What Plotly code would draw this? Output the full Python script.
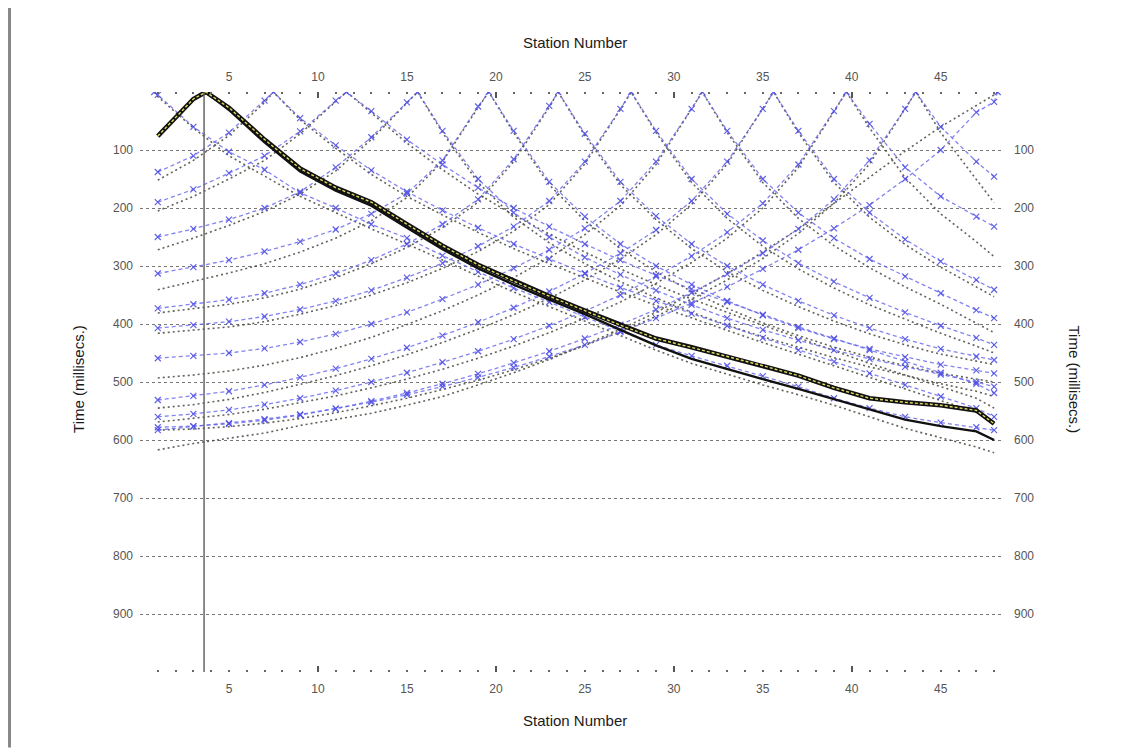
import plotly.graph_objects as go

# Station grid at which the travel times were read (every 2 stations + last)
STATIONS = [1, 3, 5, 7, 9, 11, 13, 15, 17, 19, 21, 23, 25, 27, 29, 31, 33, 35, 37, 39, 41, 43, 45, 47, 48]
SHOTS = [0.8, 7.5, 11.6, 15.6, 19.6, 23.5, 27.6, 31.6, 35.6, 39.7, 43.6, 48.2]
SELECTED_SHOT = 3.7
CURSOR_STATION = 3.6

X_TICKS = [5, 10, 15, 20, 25, 30, 35, 40, 45]
X_MAJOR = [10, 20, 30, 40]
Y_TICKS = [100, 200, 300, 400, 500, 600, 700, 800, 900]

# Computed (blue) travel times per shot, ms
BLUE_01 = [5, 60, 103, 134, 174, 200, 228, 252, 282, 310, 338, 362, 388, 412, 436, 455, 472, 490, 508, 528, 545, 560, 570, 578, 583]
BLUE_07 = [138, 110, 70, 15, 45, 92, 135, 172, 204, 234, 262, 288, 313, 337, 360, 382, 403, 424, 445, 465, 485, 505, 525, 545, 560]
BLUE_11 = [190, 168, 140, 110, 68, 15, 33, 82, 125, 165, 200, 232, 262, 290, 316, 340, 362, 384, 405, 425, 445, 465, 484, 503, 519]
BLUE_15 = [250, 236, 220, 200, 172, 130, 78, 18, 67, 150, 208, 250, 285, 315, 342, 367, 390, 410, 428, 445, 460, 474, 487, 500, 508]
BLUE_19 = [313, 302, 290, 275, 258, 237, 210, 175, 118, 25, 67, 155, 215, 262, 300, 332, 360, 385, 407, 426, 443, 457, 470, 480, 485]
BLUE_23 = [373, 366, 358, 347, 332, 313, 290, 262, 228, 185, 116, 24, 72, 155, 214, 262, 300, 332, 360, 385, 407, 426, 443, 456, 462]
BLUE_27 = [407, 402, 396, 387, 375, 360, 342, 320, 295, 266, 232, 188, 120, 29, 67, 150, 210, 256, 295, 327, 355, 380, 403, 424, 436]
BLUE_31 = [459, 455, 450, 442, 431, 417, 400, 380, 357, 332, 304, 272, 235, 188, 120, 29, 67, 150, 208, 252, 288, 318, 347, 376, 390]
BLUE_35 = [531, 524, 516, 505, 492, 477, 460, 441, 420, 397, 372, 344, 313, 278, 238, 188, 120, 29, 67, 150, 208, 254, 292, 324, 341]
BLUE_39 = [560, 555, 548, 539, 528, 515, 500, 484, 466, 447, 426, 403, 378, 350, 318, 283, 242, 192, 125, 33, 55, 130, 180, 215, 232]
BLUE_43 = [578, 576, 572, 566, 557, 546, 533, 519, 503, 486, 467, 447, 425, 401, 375, 346, 314, 278, 236, 185, 118, 29, 60, 120, 146]
BLUE_48 = [583, 577, 571, 564, 556, 546, 535, 522, 508, 492, 475, 456, 436, 414, 390, 364, 336, 305, 272, 235, 195, 150, 100, 35, 17]

# Observed (black dotted) travel times per shot, ms
BLACK_01 = [8, 62, 110, 145, 180, 208, 236, 262, 290, 318, 345, 370, 395, 420, 445, 468, 487, 505, 522, 540, 560, 580, 596, 612, 622]
BLACK_07 = [152, 118, 75, 18, 48, 97, 142, 180, 212, 242, 270, 296, 321, 345, 368, 390, 411, 432, 452, 472, 492, 512, 532, 552, 569]
BLACK_11 = [205, 180, 150, 118, 72, 16, 36, 88, 134, 176, 212, 245, 276, 305, 332, 357, 380, 402, 424, 446, 468, 488, 508, 528, 545]
BLACK_15 = [272, 252, 230, 206, 176, 136, 82, 20, 70, 156, 216, 260, 296, 327, 355, 380, 402, 422, 440, 458, 474, 489, 503, 516, 525]
BLACK_19 = [341, 327, 312, 296, 276, 252, 222, 182, 120, 27, 70, 160, 222, 270, 310, 344, 373, 398, 420, 440, 457, 472, 485, 495, 500]
BLACK_23 = [381, 374, 366, 355, 340, 320, 296, 268, 234, 190, 120, 26, 75, 160, 220, 270, 310, 342, 370, 395, 417, 436, 452, 464, 470]
BLACK_27 = [416, 411, 405, 396, 383, 368, 350, 329, 304, 275, 240, 194, 124, 30, 70, 156, 218, 266, 305, 338, 367, 392, 416, 438, 450]
BLACK_31 = [493, 488, 481, 471, 458, 442, 423, 401, 377, 350, 320, 286, 246, 196, 125, 30, 70, 156, 218, 265, 303, 336, 366, 398, 415]
BLACK_35 = [545, 539, 530, 518, 504, 489, 472, 453, 432, 409, 384, 356, 324, 288, 246, 194, 124, 30, 70, 156, 216, 263, 302, 336, 353]
BLACK_39 = [569, 563, 556, 547, 536, 524, 510, 495, 478, 459, 438, 415, 390, 362, 330, 294, 252, 200, 130, 35, 62, 148, 210, 258, 284]
BLACK_43 = [583, 581, 577, 571, 563, 553, 541, 528, 513, 497, 479, 459, 437, 413, 387, 357, 324, 287, 244, 192, 124, 30, 70, 150, 191]
BLACK_48 = [617, 606, 597, 588, 575, 564, 554, 540, 525, 505, 484, 461, 436, 409, 380, 348, 313, 276, 236, 192, 147, 102, 60, 24, 5]

# Selected shot (thick curve) picks
SELECTED_PICKS = [76, 12, 27, 82, 132, 165, 190, 228, 265, 298, 326, 352, 377, 402, 425, 440, 456, 472, 489, 510, 528, 535, 540, 549, 572]
SELECTED_MODEL = [76, 12, 31, 87, 137, 170, 196, 234, 271, 304, 332, 358, 383, 410, 437, 460, 478, 495, 512, 530, 547, 565, 576, 585, 600]

BLUE = [BLUE_01, BLUE_07, BLUE_11, BLUE_15, BLUE_19, BLUE_23, BLUE_27, BLUE_31, BLUE_35, BLUE_39, BLUE_43, BLUE_48]
BLACK = [BLACK_01, BLACK_07, BLACK_11, BLACK_15, BLACK_19, BLACK_23, BLACK_27, BLACK_31, BLACK_35, BLACK_39, BLACK_43, BLACK_48]


def with_apex(shot, times):
    pts = sorted(list(zip(STATIONS, times)) + [(shot, 0)])
    return [p[0] for p in pts], [p[1] for p in pts]


fig = go.Figure()

for shot, times in zip(SHOTS, BLACK):
    xs, ys = with_apex(shot, times)
    fig.add_trace(go.Scatter(x=xs, y=ys, mode="lines",
                             line=dict(color="rgba(70,70,60,0.85)", width=1.6, dash="2px,3px")))

for shot, times in zip(SHOTS, BLUE):
    xs, ys = with_apex(shot, times)
    fig.add_trace(go.Scatter(x=xs, y=ys, mode="lines+markers",
                             line=dict(color="rgba(100,100,235,0.8)", width=1.3, dash="4px,3px"),
                             marker=dict(symbol="x-thin", size=6,
                                         line=dict(color="rgba(80,80,230,0.9)", width=1.2))))

xs, ys = with_apex(SELECTED_SHOT, SELECTED_MODEL)
fig.add_trace(go.Scatter(x=xs, y=ys, mode="lines", line=dict(color="#111", width=2.4)))
xs, ys = with_apex(SELECTED_SHOT, SELECTED_PICKS)
fig.add_trace(go.Scatter(x=xs, y=ys, mode="lines", line=dict(color="#111", width=4.5)))
fig.add_trace(go.Scatter(x=xs, y=ys, mode="lines", line=dict(color="#e0dc60", width=1.4, dash="3px,2px")))

# helper traces to make the secondary axes render
fig.add_trace(go.Scatter(x=[None], y=[None], xaxis="x2", yaxis="y2", showlegend=False))
fig.add_trace(go.Scatter(x=[None], y=[None], xaxis="x3", yaxis="y", showlegend=False))
fig.add_trace(go.Scatter(x=[None], y=[None], xaxis="x4", yaxis="y", showlegend=False))

fig.add_shape(type="line", x0=CURSOR_STATION, x1=CURSOR_STATION, y0=0, y1=1, yref="paper",
              line=dict(color="#666", width=1.5))
# window frame on the left
fig.add_shape(type="line", xref="paper", yref="paper", x0=-0.1512, x1=-0.1512, y0=-0.13, y1=1.16,
              line=dict(color="#888", width=3))

XR = [0, 48.5]
YR = [1000, 0]
tickfont = dict(family="Liberation Sans, Arial", size=12, color="#555")
minor = dict(ticks="inside", dtick=1, tick0=0, ticklen=2, tickwidth=2, tickcolor="#666")

common_x = dict(range=XR, tickmode="array", tickvals=X_TICKS, ticks="inside", ticklen=2, tickwidth=2,
                tickcolor="#666", minor=minor, showgrid=False, zeroline=False, showline=False,
                tickfont=tickfont, fixedrange=True, ticklabelstandoff=8)

title_font = dict(family="Liberation Sans, Arial", size=15, color="#1a1a1a")

# the page adds an 8px body margin, so the plot box is placed 8px up/left
fig.update_layout(
    width=1136, height=755,
    margin=dict(l=132, r=141, t=84, b=91, autoexpand=False),
    paper_bgcolor="white", plot_bgcolor="white",
    showlegend=False,
    xaxis=dict(**common_x, anchor="y"),
    xaxis2=dict(**common_x, overlaying="x", side="top", anchor="y"),
    xaxis3=dict(range=XR, overlaying="x", side="bottom", anchor="y", tickmode="array", tickvals=X_MAJOR,
                ticks="inside", ticklen=6, tickwidth=1.5, tickcolor="#555", showticklabels=False,
                showgrid=False, zeroline=False),
    xaxis4=dict(range=XR, overlaying="x", side="top", anchor="y", tickmode="array", tickvals=X_MAJOR,
                ticks="inside", ticklen=6, tickwidth=1.5, tickcolor="#555", showticklabels=False,
                showgrid=False, zeroline=False),
    yaxis=dict(range=YR, tickmode="array", tickvals=Y_TICKS, showgrid=True, gridcolor="#777",
               griddash="dot", gridwidth=1.4, zeroline=False, showline=False, ticks="",
               tickfont=tickfont, ticklabelstandoff=6),
    yaxis2=dict(range=YR, tickmode="array", tickvals=Y_TICKS, overlaying="y", side="right",
                showgrid=False, zeroline=False, showline=False, ticks="", tickfont=tickfont,
                ticklabelstandoff=10),
    annotations=[
        dict(text="Station Number", xref="paper", yref="paper", x=0.504, y=1.086, showarrow=False,
             xanchor="center", yanchor="middle", font=title_font),
        dict(text="Station Number", xref="paper", yref="paper", x=0.504, y=-0.083, showarrow=False,
             xanchor="center", yanchor="middle", font=title_font),
        dict(text="Time (millisecs.)", xref="paper", yref="paper", x=-0.072, y=0.505, showarrow=False,
             xanchor="center", yanchor="middle", textangle=-90, font=title_font),
        dict(text="Time (millisecs.)", xref="paper", yref="paper", x=1.083, y=0.505, showarrow=False,
             xanchor="center", yanchor="middle", textangle=90, font=title_font),
    ],
)

fig.write_html("out.html")
